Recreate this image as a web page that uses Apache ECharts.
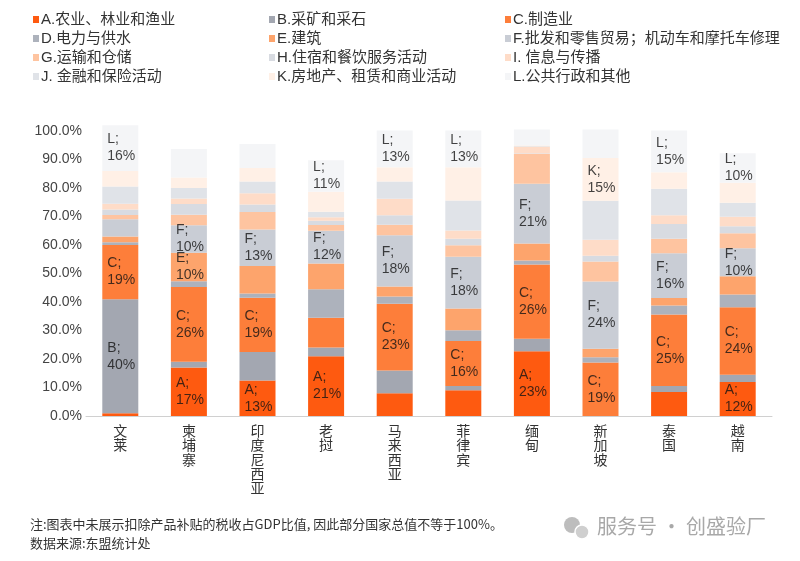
<!DOCTYPE html>
<html>
<head>
<meta charset="utf-8">
<script src="https://cdn.jsdelivr.net/npm/echarts@6/dist/echarts.min.js"></script>
<style>
html, body { margin: 0; padding: 0; background: #fff; }
#chart { width: 800px; height: 561px; }
</style>
</head>
<body>
<div id="chart"></div>
<script>
var countries = ['文莱', '柬埔寨', '印度尼西亚', '老挝', '马来西亚', '菲律宾', '缅甸', '新加坡', '泰国', '越南'];
var sectorNames = ['A.农业、林业和渔业', 'B.采矿和采石', 'C.制造业', 'D.电力与供水', 'E.建筑',
  'F.批发和零售贸易；机动车和摩托车修理', 'G.运输和仓储', 'H.住宿和餐饮服务活动', 'I. 信息与传播',
  'J. 金融和保险活动', 'K.房地产、租赁和商业活动', 'L.公共行政和其他'];
var sectorColors = ['#fe5a10', '#a3a7b1', '#fd7e3a', '#adb2bc', '#fda46c', '#c9cdd5',
  '#fec4a0', '#d8dbe1', '#fedcc8', '#e0e3e8', '#fff0e6', '#f4f5f7'];

// share of GDP (%) per sector, same order as countries
var sectorA = [1, 17, 12.5, 21, 8, 9, 22.7, 0, 8.4, 11.9];
var sectorB = [40, 2, 10, 3, 8, 1.5, 4.4, 0, 2.1, 2.6];
var sectorC = [19, 26.3, 19, 10.5, 23.4, 15.8, 26.1, 18.8, 25.1, 23.7];
var sectorD = [1, 2, 1.5, 10, 2.5, 3.8, 1.4, 1.8, 3.2, 4.4];
var sectorE = [2, 10, 9.6, 9, 3.5, 7.6, 5.9, 3, 2.6, 6.4];
var sectorF = [6, 9.6, 12.8, 11.5, 18, 18.2, 21, 23.6, 15.7, 9.9];
var sectorG = [1.5, 3.7, 6.2, 2, 3.7, 4, 10.5, 7, 5.1, 5.2];
var sectorH = [2, 3.8, 2.6, 1.5, 3.3, 2.3, 0.2, 2, 5.2, 2.5];
var sectorI = [2, 1.9, 4, 1.2, 5.8, 2.9, 2.4, 5.6, 3, 3.3];
var sectorJ = [6, 3.7, 4.1, 2, 6.1, 10.5, 0.2, 13.7, 9.3, 4.9];
var sectorK = [5.5, 3.7, 4.7, 7, 5, 11.7, 0.2, 15, 5.8, 7];
var sectorL = [16, 10, 8.4, 11, 12.9, 12.9, 5.5, 10, 14.7, 10.4];
var sectorData = [sectorA, sectorB, sectorC, sectorD, sectorE, sectorF,
  sectorG, sectorH, sectorI, sectorJ, sectorK, sectorL];

// which sectors carry a value label in each country's bar
var labelled = ['BCL', 'ACEF', 'ACF', 'AFL', 'CFL', 'CFL', 'ACF', 'CFK', 'CFL', 'ACFL'];

var yTicks = [0, 10, 20, 30, 40, 50, 60, 70, 80, 90, 100];

var font = "'Liberation Sans', 'Noto Sans CJK SC', sans-serif";
var chart = echarts.init(document.getElementById('chart'));

var series = sectorNames.map(function (name, i) {
  var letter = name.charAt(0);
  return {
    name: name,
    type: 'bar',
    stack: 'total',
    barWidth: 36,
    clip: false,
    itemStyle: { color: sectorColors[i] },
    data: sectorData[i].map(function (v, c) {
      return {
        value: v,
        label: { show: labelled[c].indexOf(letter) >= 0 }
      };
    }),
    label: {
      position: 'inside',
      align: 'left',
      offset: [-13, 0],
      fontFamily: font,
      fontSize: 14,
      lineHeight: 17,
      color: 'rgba(20,20,20,0.8)',
      formatter: function (p) {
        return letter + ';\n' + Math.round(p.value) + '%';
      }
    },
    emphasis: { disabled: true }
  };
});

function legendCol(left, idx) {
  return {
    orient: 'vertical',
    left: left,
    top: 7,
    itemWidth: 6,
    itemHeight: 7,
    itemGap: 4,
    icon: 'rect',
    selectedMode: false,
    textStyle: { fontFamily: font, fontSize: 15, color: '#333', padding: [0, 0, 0, -3] },
    data: idx.map(function (k) { return sectorNames[k]; })
  };
}

var option = {
  animation: false,
  textStyle: { fontFamily: font },
  legend: [
    legendCol(28, [0, 3, 6, 9]),
    legendCol(264, [1, 4, 7, 10]),
    legendCol(500, [2, 5, 8, 11])
  ],
  grid: { left: 86, right: 28, top: 131, bottom: 145 },
  xAxis: {
    type: 'category',
    data: countries,
    axisLine: { lineStyle: { color: '#d0d0d0' } },
    axisTick: { show: false },
    axisLabel: {
      interval: 0,
      margin: 9,
      fontSize: 14,
      lineHeight: 14.3,
      color: '#333',
      formatter: function (v) { return v.split('').join('\n'); }
    }
  },
  yAxis: {
    type: 'value',
    min: yTicks[0],
    max: yTicks[yTicks.length - 1],
    interval: 10,
    axisLine: { show: false },
    axisTick: { show: false },
    splitLine: { show: false },
    axisLabel: {
      fontSize: 14,
      color: '#444',
      margin: 4,
      formatter: function (v) { return v.toFixed(1) + '%'; }
    }
  },
  graphic: [
    {
      type: 'text', left: 30, top: 518,
      style: { text: '注:图表中未展示扣除产品补贴的税收占GDP比值, 因此部分国家总值不等于100%。', fontSize: 13, fill: '#333', fontFamily: "'Noto Sans CJK SC', serif" }
    },
    {
      type: 'text', left: 30, top: 537,
      style: { text: '数据来源:东盟统计处', fontSize: 13, fill: '#333', fontFamily: "'Noto Sans CJK SC', serif" }
    },
    { type: 'circle', shape: { cx: 572, cy: 525, r: 8 }, style: { fill: '#bdbdbd' } },
    { type: 'circle', shape: { cx: 582, cy: 532, r: 7 }, style: { fill: '#cfcfcf', stroke: '#fff', lineWidth: 1.5 } },
    {
      type: 'text', left: 597, top: 516,
      style: { text: '服务号 · 创盛验厂', fontSize: 20, fill: '#a8a8a8', fontFamily: "'Noto Sans CJK SC', sans-serif" }
    }
  ],
  series: series
};

chart.setOption(option);
</script>
</body>
</html>
